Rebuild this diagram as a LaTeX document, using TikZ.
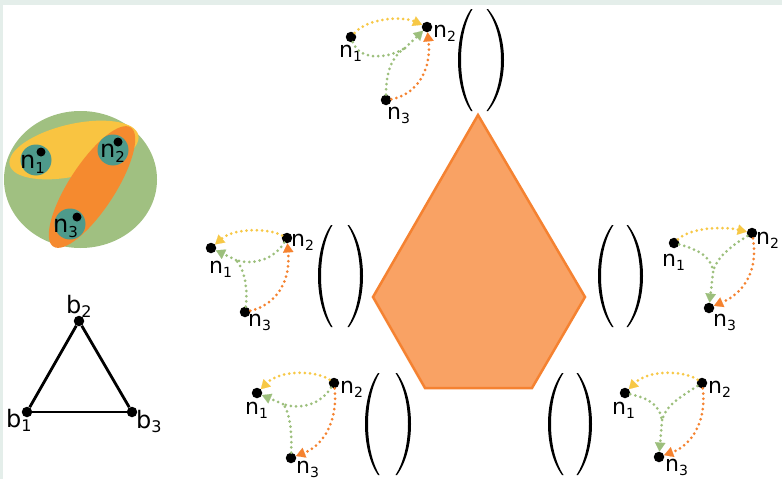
\documentclass[tikz,border=0pt]{standalone}
\usepackage{fontspec}
\setmainfont{DejaVu Sans}
\usetikzlibrary{arrows.meta}
\definecolor{bandc}{HTML}{E4EEEA}
\definecolor{bigg}{HTML}{A0C081}
\definecolor{bigy}{HTML}{F9C441}
\definecolor{bigo}{HTML}{F58A2F}
\definecolor{tealc}{HTML}{4E9A8B}
\definecolor{pentf}{HTML}{F9A264}
\definecolor{pento}{HTML}{F58231}
\definecolor{dyel}{HTML}{F7C846}
\definecolor{dgrn}{HTML}{9CBF7C}
\definecolor{dorg}{HTML}{F5822F}
\newcommand\snA[1]{n\raisebox{-4pt}{\fontsize{14}{14}\selectfont #1}}
\newcommand\snB[1]{n\raisebox{-5pt}{\fontsize{15}{15}\selectfont #1}}
\newcommand\blab[1]{b\raisebox{-4pt}{\fontsize{16}{16}\selectfont #1}}
% x0, outer bulge, inner bulge, ytop, ybot, end width
\newcommand\parenshape[6]{%
 \fill (#1,#4) .. controls ({#1+(#2-#1)*4/3},{#4+(#5-#4)*0.25}) and ({#1+(#2-#1)*4/3},{#5-(#5-#4)*0.25}) .. (#1,#5)
 -- ({#1+#6},#5) .. controls ({#1+#6+(#3-#1-#6)*4/3},{#5-(#5-#4)*0.25}) and ({#1+#6+(#3-#1-#6)*4/3},{#4+(#5-#4)*0.25}) .. ({#1+#6},#4) -- cycle;}
\begin{document}
\begin{tikzpicture}[x=1pt,y=-1pt,
  blackdot/.style={circle,fill=black,inner sep=0pt,minimum size=10.5pt},
  smalldot/.style={circle,fill=black,inner sep=0pt,minimum size=9pt},
  lbl/.style={inner sep=0pt,anchor=base west,font=\fontsize{22}{22}\selectfont},
  clbl/.style={inner sep=0pt,anchor=base west,font=\fontsize{24}{24}\selectfont},
  tealnode/.style={circle,fill=tealc,inner sep=0pt,minimum size=31pt},
  hyp/.style={line width=3pt,dash pattern=on 0pt off 5.2pt,line cap=round},
  yel/.style={hyp,color=dyel},
  grn/.style={hyp,color=dgrn},
  org/.style={hyp,color=dorg},
  arrtip/.style={-{Triangle[length=9pt,width=10.5pt,line width=0.1pt]}},
  edgeline/.style={line width=2.8pt}]
\useasboundingbox (0,0) rectangle (782,479);
\fill[white] (0,0) rectangle (782,479);
\fill[bandc] (0,0) rectangle (782,5);
\fill[bandc] (0,0) rectangle (3,479);

% ---- left hypergraph picture ----
\fill[bigg] (80.5,179.5) ellipse [x radius=76.5, y radius=68.5];
\begin{scope}[shift={(74,150)},rotate=13]
 \fill[bigy] (0,0) ellipse [x radius=66, y radius=26];
\end{scope}
\begin{scope}[shift={(92,187)},rotate=57]
 \fill[bigo] (0,0) ellipse [x radius=71, y radius=23];
\end{scope}
\node[tealnode] (c1) at (36,160) {};
\node[tealnode] (c2) at (113,150) {};
\node[tealnode] (c3) at (70,224) {};
\node[clbl] (c1l) at (20,168) {\snB{1}};
\node[clbl] (c2l) at (100,157) {\snB{2}};
\node[clbl] (c3l) at (53,232) {\snB{3}};
\node[smalldot] (c1d) at (41,152) {};
\node[smalldot] (c2d) at (118,142) {};
\node[smalldot] (c3d) at (77,217) {};

% ---- triangle ----
\node[blackdot] (b1) at (27,412) {};
\node[blackdot] (b2) at (79,321) {};
\node[blackdot] (b3) at (132,412) {};
\draw[edgeline] (b1) -- (b2);
\draw[edgeline] (b2) -- (b3);
\draw[edgeline] (b3) -- (b1);
\node[clbl] (b1l) at (6,427) {\blab{1}};
\node[clbl] (b2l) at (66,313) {\blab{2}};
\node[clbl] (b3l) at (136,428) {\blab{3}};

% ---- pentagon ----
\filldraw[fill=pentf,draw=pento,line width=2.5pt,line join=miter]
 (478,115) -- (585,297) -- (532,388) -- (425,388) -- (373,297) -- cycle;

% ---- parentheses ----
\parenshape{471}{458}{461}{9}{111}{1.5}
\parenshape{488}{504}{501}{9}{111}{-1.5}
\parenshape{331}{318}{321}{225}{327}{1.5}
\parenshape{349}{363}{360}{225}{327}{-1.5}
\parenshape{612}{598}{601}{225}{327}{1.5}
\parenshape{628}{643}{640}{225}{327}{-1.5}
\parenshape{378}{365}{368}{373}{475}{1.5}
\parenshape{397}{411}{408}{373}{475}{-1.5}
\parenshape{562}{548}{551}{373}{475}{1.5}
\parenshape{578}{592}{589}{373}{475}{-1.5}

% ---- top graph ----
\node[blackdot] (tn1) at (351,37) {};
\node[blackdot] (tn2) at (427,27) {};
\node[blackdot] (tn3) at (386,100) {};
\node[lbl] (tn1l) at (339,57) {\snA{1}};
\node[lbl] (tn2l) at (433,37) {\snA{2}};
\node[lbl] (tn3l) at (387,119) {\snA{3}};
\coordinate (gT) at (405,48);
\draw[yel,arrtip] (tn1) .. controls (368,18) and (402,16) .. (tn2);
\draw[org,arrtip] (tn3) .. controls (412,96) and (432,75) .. (tn2);
\draw[grn] (tn1) .. controls (360,62) and (390,58) .. (gT);
\draw[grn] (tn3) .. controls (386,72) and (392,56) .. (gT);
\draw[grn,arrtip] (gT) -- (tn2);

% ---- left graph ----
\node[blackdot] (ln1) at (211,248) {};
\node[blackdot] (ln2) at (287,238) {};
\node[blackdot] (ln3) at (245,312) {};
\node[lbl] (ln1l) at (209,273) {\snA{1}};
\node[lbl] (ln2l) at (291,246) {\snA{2}};
\node[lbl] (ln3l) at (248,326) {\snA{3}};
\coordinate (gL) at (236,260);
\draw[yel,arrtip] (ln2) .. controls (268,228) and (234,228) .. (ln1);
\draw[org,arrtip] (ln3) .. controls (272,306) and (291,286) .. (ln2);
\draw[grn] (ln2) .. controls (275,258) and (255,266) .. (gL);
\draw[grn] (ln3) .. controls (248,290) and (245,270) .. (gL);
\draw[grn,arrtip] (gL) -- (ln1);

% ---- right graph ----
\node[blackdot] (rn1) at (674,243) {};
\node[blackdot] (rn2) at (752,233) {};
\node[blackdot] (rn3) at (709,308) {};
\node[lbl] (rn1l) at (662,266) {\snA{1}};
\node[lbl] (rn2l) at (756,244) {\snA{2}};
\node[lbl] (rn3l) at (713,326) {\snA{3}};
\coordinate (gR) at (713,272);
\draw[yel,arrtip] (rn1) .. controls (690,228) and (722,226) .. (rn2);
\draw[org,arrtip] (rn2) .. controls (758,268) and (746,292) .. (rn3);
\draw[grn] (rn1) .. controls (700,250) and (712,258) .. (gR);
\draw[grn] (rn2) .. controls (730,247) and (716,258) .. (gR);
\draw[grn,arrtip] (gR) -- (rn3);

% ---- bottom-left graph ----
\node[blackdot] (bn1) at (257,393) {};
\node[blackdot] (bn2) at (334,383) {};
\node[blackdot] (bn3) at (291,458) {};
\node[lbl] (bn1l) at (245,414) {\snA{1}};
\node[lbl] (bn2l) at (340,393) {\snA{2}};
\node[lbl] (bn3l) at (296,473) {\snA{3}};
\coordinate (gBL) at (283,404);
\draw[yel,arrtip] (bn2) .. controls (316,370) and (280,370) .. (bn1);
\draw[org,arrtip] (bn2) .. controls (338,420) and (324,445) .. (bn3);
\draw[grn] (bn2) .. controls (320,405) and (300,410) .. (gBL);
\draw[grn] (bn3) .. controls (292,432) and (290,412) .. (gBL);
\draw[grn,arrtip] (gBL) -- (bn1);

% ---- bottom-right graph ----
\node[blackdot] (brn1) at (625,393) {};
\node[blackdot] (brn2) at (702,383) {};
\node[blackdot] (brn3) at (659,457) {};
\node[lbl] (brn1l) at (612,414) {\snA{1}};
\node[lbl] (brn2l) at (708,393) {\snA{2}};
\node[lbl] (brn3l) at (665,471) {\snA{3}};
\coordinate (gBR) at (662,420);
\draw[yel,arrtip] (brn2) .. controls (684,370) and (648,370) .. (brn1);
\draw[org,arrtip] (brn2) .. controls (707,420) and (692,445) .. (brn3);
\draw[grn] (brn1) .. controls (648,398) and (660,405) .. (gBR);
\draw[grn] (brn2) .. controls (682,396) and (666,405) .. (gBR);
\draw[grn,arrtip] (gBR) -- (brn3);
\end{tikzpicture}
\end{document}
